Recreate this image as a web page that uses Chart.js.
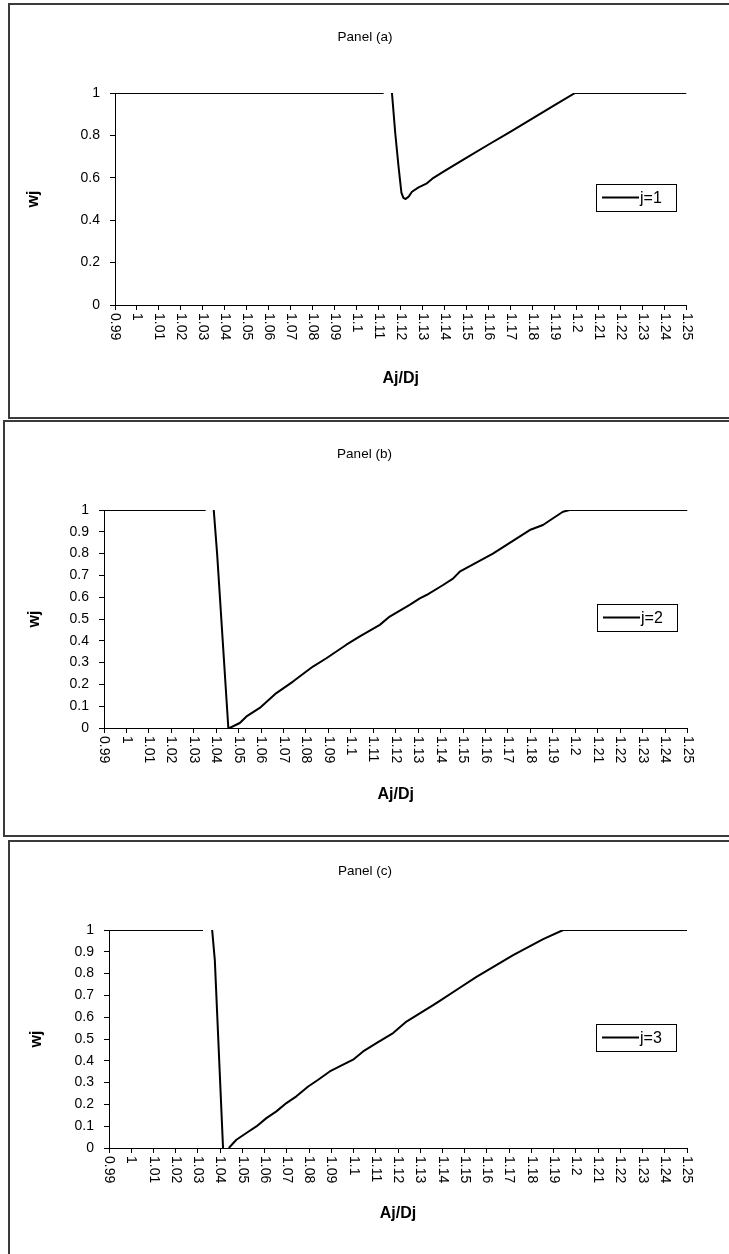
<!DOCTYPE html>
<html>
<head>
<meta charset="utf-8">
<script src="https://cdn.jsdelivr.net/npm/chart.js@4.4.1/dist/chart.umd.min.js"></script>
<style>
  html, body { margin: 0; padding: 0; background: #fff; }
  body { width: 729px; height: 1254px; position: relative; overflow: hidden; }
  .frame { position: absolute; border: 2px solid #3a3a3a; box-sizing: border-box; }
  canvas { position: absolute; left: 0; }
</style>
</head>
<body>
<div class="frame" style="left:8px; top:3px; width:740px; height:416px;"></div>
<div class="frame" style="left:3px; top:420px; width:740px; height:417px;"></div>
<div class="frame" style="left:8px; top:840px; width:740px; height:430px;"></div>
<canvas id="chart-a" width="729" height="420" style="top:0"></canvas>
<canvas id="chart-b" width="729" height="420" style="top:420px"></canvas>
<canvas id="chart-c" width="729" height="414" style="top:840px"></canvas>
<script>
// Aj/Dj (x) and wj (y); null = gap in the line
const ratioA  = [0.99, 1.1122, 1.1125, 1.116, 1.1175, 1.119, 1.1203, 1.1212, 1.1222, 1.1236, 1.1251, 1.1281, 1.1319, 1.1349, 1.14, 1.15, 1.16, 1.17, 1.18, 1.19, 1.1993, 1.2024, 1.25];
const weightA = [1, 1, null, 1, 0.81, 0.652, 0.53, 0.505, 0.5, 0.511, 0.534, 0.555, 0.574, 0.6, 0.633, 0.695, 0.757, 0.818, 0.88, 0.943, 1, 1, 1];

const ratioB  = [0.99, 1.0353, 1.0356, 1.0389, 1.0404, 1.0454, 1.046, 1.0505, 1.0535, 1.0594, 1.0668, 1.0742, 1.0831, 1.0891, 1.098, 1.104, 1.1129, 1.1173, 1.1262, 1.1307, 1.1337, 1.1411, 1.1455, 1.1485, 1.1633, 1.1797, 1.1856, 1.1901, 1.1945, 1.1975, 1.25];
const weightB = [1, 1, null, 1, 0.80, 0, 0, 0.023, 0.053, 0.092, 0.16, 0.213, 0.282, 0.32, 0.382, 0.42, 0.473, 0.511, 0.565, 0.595, 0.61, 0.656, 0.685, 0.717, 0.80, 0.908, 0.931, 0.962, 0.992, 1, 1];

const ratioC  = [0.99, 1.0323, 1.0326, 1.0364, 1.0376, 1.0413, 1.0415, 1.0439, 1.0473, 1.0518, 1.0563, 1.0608, 1.0653, 1.0698, 1.0743, 1.0796, 1.0841, 1.0893, 1.0953, 1.0998, 1.1043, 1.1103, 1.1178, 1.1238, 1.1298, 1.1358, 1.1388, 1.1478, 1.1553, 1.1718, 1.1853, 1.1943, 1.25];
const weightC = [1, 1, null, 1, 0.862, 0, null, 0, 0.038, 0.069, 0.099, 0.137, 0.168, 0.206, 0.237, 0.282, 0.313, 0.351, 0.382, 0.405, 0.443, 0.481, 0.527, 0.58, 0.618, 0.655, 0.675, 0.735, 0.785, 0.885, 0.958, 1, 1];

const seriesNames = ['j=1', 'j=2', 'j=3'];
const panelTitles = ['Panel (a)', 'Panel (b)', 'Panel (c)'];
const xTitle = 'Aj/Dj';
const yTitle = 'wj';
const xMin = 0.99, xMax = 1.25, xStep = 0.01;
const yStepA = 0.2, yStepBC = 0.1;

const FONT = '"Liberation Sans", Arial, Helvetica, sans-serif';
Chart.defaults.font.family = FONT;
Chart.defaults.font.size = 14;
Chart.defaults.color = '#000';

function fmtTick(v) {
    return String(Number(v.toFixed(2)));
}

// x labels in the original run top-to-bottom, and the legend sits inside the plot
const panelDecor = {
    id: 'panelDecor',
    afterDraw(chart, args, opts) {
        const ctx = chart.ctx;
        const xs = chart.scales.x;
        ctx.save();
        ctx.fillStyle = '#000';
        ctx.font = '14px ' + FONT;
        ctx.textAlign = 'left';
        ctx.textBaseline = 'middle';
        xs.ticks.forEach(t => {
            let px = xs.getPixelForValue(t.value);
            ctx.save();
            ctx.translate(px, xs.top + opts.labelGap);
            ctx.rotate(Math.PI / 2);
            ctx.fillText(fmtTick(t.value), 0, 0);
            ctx.restore();
        });

        let ca = chart.chartArea;
        let w = 80, h = 27;
        let bx = Math.round(ca.right - opts.legendRight - w);
        let by = Math.round((ca.top + ca.bottom) / 2 + opts.legendDy - h / 2);
        let cy = by + h / 2;
        ctx.strokeStyle = '#000';
        ctx.lineWidth = 1;
        ctx.strokeRect(bx + 0.5, by + 0.5, w, h);
        ctx.beginPath();
        ctx.lineWidth = 2;
        ctx.moveTo(bx + 6, cy);
        ctx.lineTo(bx + 43, cy);
        ctx.stroke();
        ctx.font = '16px ' + FONT;
        ctx.fillText(chart.data.datasets[0].label, bx + 44, cy + 1);
        ctx.restore();
    }
};

function makePanel(id, ratios, weights, name, title, p) {
    let points = ratios.map((x, i) => ({x: x, y: weights[i]}));
    return new Chart(document.getElementById(id), {
        type: 'line',
        data: {
            datasets: [{
                label: name,
                data: points,
                borderColor: '#000',
                borderWidth: 2,
                pointRadius: 0,
                tension: 0,
                fill: false,
                spanGaps: false,
                borderJoinStyle: 'round'
            }]
        },
        options: {
            responsive: false,
            animation: false,
            devicePixelRatio: 1,
            layout: {padding: {left: p.padLeft, right: p.padRight, top: 0, bottom: p.padBottom}},
            plugins: {
                legend: {display: false},
                tooltip: {enabled: false},
                title: {
                    display: true,
                    text: title,
                    font: {size: 13.5, weight: 'normal'},
                    color: '#000',
                    padding: {top: p.titleTop, bottom: p.titleBottom}
                },
                panelDecor: {labelGap: 8, legendRight: 11, legendDy: -2}
            },
            scales: {
                x: {
                    type: 'linear',
                    min: xMin,
                    max: xMax,
                    ticks: {display: false, stepSize: xStep},
                    grid: {display: true, drawOnChartArea: false, drawTicks: true, tickLength: 5, color: '#000'},
                    border: {display: true, color: '#000', width: 1},
                    title: {display: true, text: xTitle, font: {size: 16, weight: 'bold'}, padding: {top: 0, bottom: 0}},
                    afterFit: s => { s.height = p.xHeight; }
                },
                y: {
                    min: 0,
                    max: 1,
                    ticks: {stepSize: p.yStep, padding: 10, font: {size: 14}, color: '#000', callback: v => fmtTick(v)},
                    grid: {display: true, drawOnChartArea: false, drawTicks: true, tickLength: 5, color: '#000'},
                    border: {display: true, color: '#000', width: 1},
                    title: {display: true, text: yTitle, font: {size: 16, weight: 'bold'}, padding: {top: p.yTitlePad, bottom: 0}},
                    afterFit: s => { s.width = p.yWidth; }
                }
            }
        },
        plugins: [panelDecor]
    });
}

makePanel('chart-a', ratioA, weightA, seriesNames[0], panelTitles[0], {
    padLeft: 43.5, padRight: 42.5, padBottom: 31.4, titleTop: 28.9, titleBottom: 47.9,
    xHeight: 83.6, yWidth: 71.5, yTitlePad: -19.1, yStep: yStepA
});
makePanel('chart-b', ratioB, weightB, seriesNames[1], panelTitles[1], {
    padLeft: 41.5, padRight: 41.5, padBottom: 35.4, titleTop: 25.9, titleBottom: 47.9,
    xHeight: 76.6, yWidth: 62.5, yTitlePad: -16.1, yStep: yStepBC
});
makePanel('chart-c', ratioC, weightC, seriesNames[2], panelTitles[2], {
    padLeft: 43, padRight: 42, padBottom: 30.4, titleTop: 22.9, titleBottom: 50.9,
    xHeight: 75.6, yWidth: 66, yTitlePad: -15.6, yStep: yStepBC
});
</script>
</body>
</html>
